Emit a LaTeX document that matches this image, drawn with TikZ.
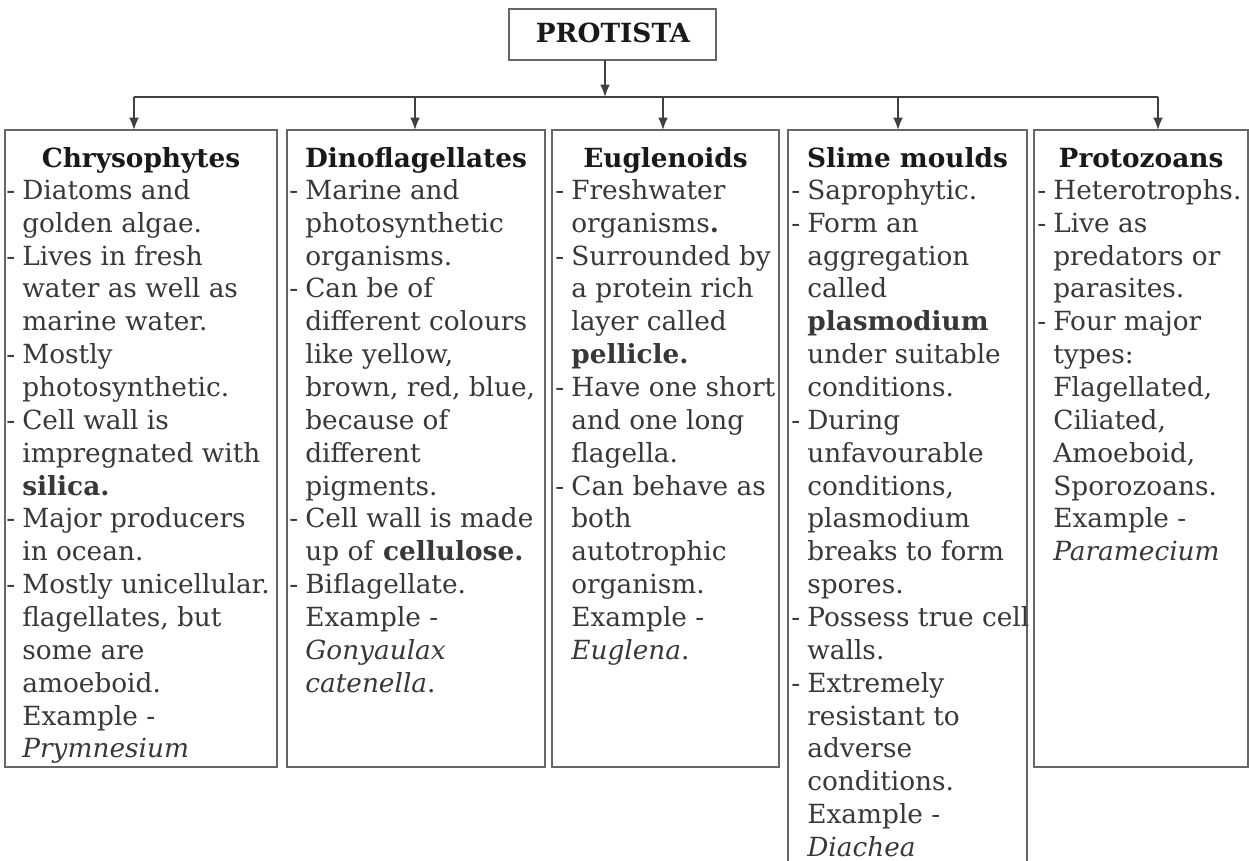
\documentclass[tikz,border=0pt]{standalone}
\usepackage{fontspec}
\setmainfont{DejaVu Serif}
\usetikzlibrary{arrows.meta,fit}

\newcommand{\bl}{\llap{-\hspace{4pt}}}

\tikzset{
  box/.style={draw=black!60, line width=1.1pt, inner sep=0pt, outer sep=0pt},
  head/.style={anchor=base, inner sep=0pt, font=\fontsize{15}{18.6}\selectfont\bfseries, text=black!90},
  % first line gets a 13pt strut, so the top sits 13pt over its baseline
  body/.style={anchor=north west, inner sep=0pt, align=left,
    font=\fontsize{15}{18.7}\selectfont, text=black!78,
    execute at begin node=\rule{0pt}{13pt}},
  bus/.style={draw=black!75, line width=0.9pt},
  arr/.style={bus, -{Latex[length=7pt,width=5.5pt]}},
}

\begin{document}
\begin{tikzpicture}[x=0.02cm,y=-0.02cm]
\useasboundingbox (0,0) rectangle (1249,861);

% root box
\node[box, fit={(509,9) (716,60)}] (protista) {};
\node[head] (protistat) at (613,43) {PROTISTA};

% the five groups
\node[box, fit={(5,130) (277,767)}] (chry) {};
\node[box, fit={(287,130) (545,767)}] (dino) {};
\node[box, fit={(552,130) (779,767)}] (eugl) {};
\node[box, fit={(788,130) (1027,880)}] (slime) {};
\node[box, fit={(1034,130) (1248,767)}] (proto) {};

% connectors
\coordinate (root) at (605,97);
\coordinate (d1) at (134,97);
\coordinate (d2) at (415,97);
\coordinate (d3) at (663,97);
\coordinate (d4) at (898,97);
\coordinate (d5) at (1158,97);
\draw[arr] (root |- protista.south) -- (root);
\draw[bus] (d1) -- (d5);
\draw[arr] (d1) -- (d1 |- chry.north);
\draw[arr] (d2) -- (d2 |- dino.north);
\draw[arr] (d3) -- (d3 |- eugl.north);
\draw[arr] (d4) -- (d4 |- slime.north);
\draw[arr] (d5) -- (d5 |- proto.north);

% titles
\node[head] (chryt) at (chry.center |- 0,168) {Chrysophytes};
\node[head] (dinot) at (dino.center |- 0,168) {Dinoflagellates};
\node[head] (euglt) at (eugl.center |- 0,168) {Euglenoids};
\node[head] (slimet) at (slime.center |- 0,168) {Slime moulds};
\node[head] (protot) at (proto.center |- 0,168) {Protozoans};

% texts (baseline of first line at 202)
\node[body] (chryb) at (22,179) {\bl Diatoms and\\ golden algae.\\ \bl Lives in fresh\\
  water as well as\\ marine water.\\ \bl Mostly\\ photosynthetic.\\ \bl Cell wall is\\
  impregnated with\\ \textbf{silica.}\\ \bl Major producers\\ in ocean.\\
  \bl Mostly unicellular.\\ flagellates, but\\ some are\\ amoeboid.\\ Example -\\
  \textit{Prymnesium}};
\node[body] (dinob) at (305,179) {\bl Marine and\\ photosynthetic\\ organisms.\\
  \bl Can be of\\ different colours\\ like yellow,\\ brown, red, blue,\\ because of\\
  different\\ pigments.\\ \bl Cell wall is made\\ up of \textbf{cellulose.}\\
  \bl Biflagellate.\\ Example -\\ \textit{Gonyaulax}\\ \textit{catenella}.};
\node[body] (euglb) at (571,179) {\bl Freshwater\\ organisms\textbf{.}\\ \bl Surrounded by\\
  a protein rich\\ layer called\\ \textbf{pellicle.}\\ \bl Have one short\\
  and one long\\ flagella.\\ \bl Can behave as\\ both\\ autotrophic\\ organism.\\
  Example -\\ \textit{Euglena}.};
\node[body] (slimeb) at (807,179) {\bl Saprophytic.\\ \bl Form an\\ aggregation\\ called\\
  \textbf{plasmodium}\\ under suitable\\ conditions.\\ \bl During\\ unfavourable\\
  conditions,\\ plasmodium\\ breaks to form\\ spores.\\ \bl Possess true cell\\ walls.\\
  \bl Extremely\\ resistant to\\ adverse\\ conditions.\\ Example -\\ \textit{Diachea}};
\node[body] (protob) at (1053,179) {\bl Heterotrophs.\\ \bl Live as\\ predators or\\
  parasites.\\ \bl Four major\\ types:\\ Flagellated,\\ Ciliated,\\ Amoeboid,\\
  Sporozoans.\\ Example -\\ \textit{Paramecium}};
\end{tikzpicture}
\end{document}
